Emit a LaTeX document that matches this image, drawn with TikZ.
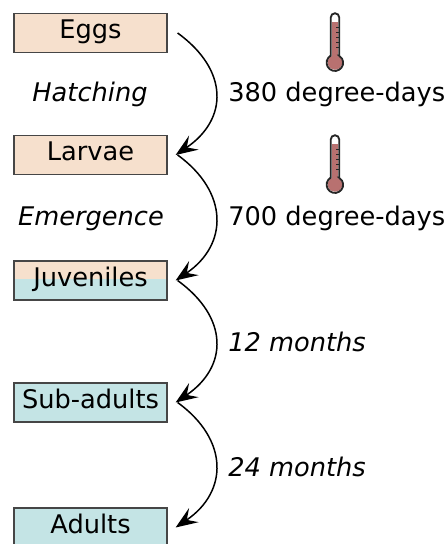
\documentclass[tikz,border=0pt]{standalone}
\usepackage{fontspec}
\setmainfont{DejaVu Sans}
\usetikzlibrary{arrows.meta}

\definecolor{peach}{RGB}{246,224,205}
\definecolor{aqua}{RGB}{196,228,229}
\definecolor{bulbred}{RGB}{184,113,112}
\definecolor{edgegray}{RGB}{70,70,70}

% thermometer, bulb centre at (#1, #2)
\newcommand{\thermometer}[2]{
\begin{scope}[shift = {(#1, #2)}]
\fill[white] (0.085, 0.1386) -- (0.085, 0.90) arc [start angle = 0, end angle = 180, radius = 0.085] -- (-0.085, 0.1386) arc [start angle = 120, end angle = 420, radius = 0.165] -- cycle;
\fill[bulbred] (-0.065, 0.1) rectangle (0.065, 0.80);
\fill[bulbred] (0.0, 0.0) circle [radius = 0.145];
\foreach \t in {0.3, 0.4, 0.5, 0.6, 0.7}
  \draw[line width = 0.7pt, black!85] (0.02, \t) -- (0.08, \t);
\draw[line width = 1.05pt, black!85] (0.085, 0.1386) -- (0.085, 0.90) arc [start angle = 0, end angle = 180, radius = 0.085] -- (-0.085, 0.1386) arc [start angle = 120, end angle = 420, radius = 0.165] -- cycle;
\end{scope}
}

\begin{document}
\begin{tikzpicture} [scale = 1,
  stage/.style = {draw = edgegray, line width = 0.7pt, minimum width = 3.06cm, minimum height = 0.78cm, inner sep = 0, text height = 0.37cm, text depth = 0.13cm, font = \fontsize{14.6}{17}\selectfont},
  duration/.style = {inner sep = 0, anchor = base west, font = \fontsize{14.6}{17}\selectfont},
  phase/.style = {inner sep = 0, anchor = base, font = \fontsize{14.6}{17}\selectfont\itshape},
  lapse/.style = {line width = 0.85pt, -{Stealth[length = 0.44cm, width = 0.34cm, inset = 0.17cm]}}]
\useasboundingbox (0.0, 0.0) rectangle (8.94, 10.88);

% life stages
\node[stage, fill = peach] (eggs) at (1.81, 10.22){Eggs};
\node[stage, fill = peach] (larvae) at (1.81, 7.78){Larvae};
\node[stage, fill = peach, path picture = {\fill[aqua] (path picture bounding box.south west) rectangle ([yshift = 0.03cm]path picture bounding box.east);}] (juveniles) at (1.81, 5.27){Juveniles};
\node[stage, fill = aqua] (subadults) at (1.81, 2.83){Sub-adults};
\node[stage, fill = aqua] (adults) at (1.81, 0.33){Adults};

% transitions
\draw[lapse] ([xshift = 0.2cm]eggs.east) .. controls +(1.02, -0.74) and +(1.06, 0.72) .. ([xshift = 0.16cm]larvae.east);
\draw[lapse] ([xshift = 0.2cm]larvae.east) .. controls +(1.02, -0.74) and +(1.06, 0.72) .. ([xshift = 0.16cm]juveniles.east);
\draw[lapse] ([xshift = 0.2cm]juveniles.east) .. controls +(1.02, -0.74) and +(1.06, 0.72) .. ([xshift = 0.16cm]subadults.east);
\draw[lapse] ([xshift = 0.2cm]subadults.east) .. controls +(1.02, -0.74) and +(1.06, 0.72) .. ([xshift = 0.16cm]adults.east);

% labels
\node[phase] (hatching) at (1.80, 8.85){Hatching};
\node[phase] (emergence) at (1.82, 6.36){Emergence};
\node[duration] (hatchdays) at (4.56, 8.85){380 degree-days};
\node[duration] (emergedays) at (4.56, 6.36){700 degree-days};
\node[duration, font = \fontsize{14.6}{17}\selectfont\itshape] (juvmonths) at (4.56, 3.85){12 months};
\node[duration, font = \fontsize{14.6}{17}\selectfont\itshape] (submonths) at (4.56, 1.35){24 months};

\thermometer{6.70}{9.63}
\thermometer{6.70}{7.19}
\end{tikzpicture}
\end{document}
